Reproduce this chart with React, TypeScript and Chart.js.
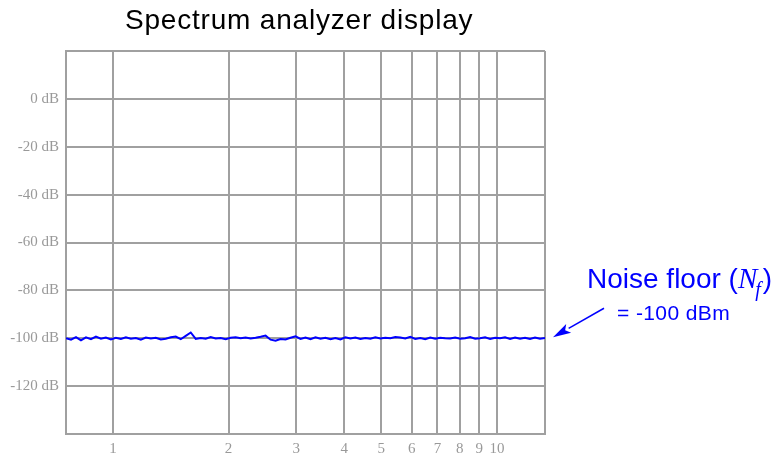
import React, { useEffect, useRef } from "react";
import { Chart, registerables } from "chart.js";

Chart.register(...registerables);

const TITLE = "Spectrum analyzer display";
const FREQ_TICKS = [1, 2, 3, 4, 5, 6, 7, 8, 9, 10];
const FREQ_MIN = 0.7545;
const FREQ_MAX = 13.34;
const DB_MIN = -140;
const DB_MAX = 20;
const DB_LABELED = [0, -20, -40, -60, -80, -100, -120];
const NOISE_DBM = [
  -100, -100.6, -99.5, -100.9, -99.6, -100.4, -99.3, -100.2, -99.7, -100.5,
  -99.8, -100.3, -99.6, -100.2, -99.9, -100.6, -99.7, -100.1, -99.8, -100.5,
  -100.2, -99.6, -99.3, -100.4, -99.0, -97.6, -100.3, -99.9, -100.2, -99.5,
  -100.1, -99.9, -100.4, -99.8, -99.6, -100.0, -99.7, -100.1, -99.8, -99.4,
  -98.9, -100.6, -101.0, -100.3, -100.5, -99.8, -99.2, -100.3, -99.7, -100.4,
  -99.6, -100.2, -99.8, -100.4, -99.9, -100.5, -99.6, -100.1, -99.7, -100.3,
  -99.9, -100.2, -99.6, -100.1, -99.8, -100.0, -99.5, -99.7, -100.1, -99.4,
  -100.3, -99.9, -100.4, -99.7, -100.2, -99.8, -100.0, -100.1, -99.7, -100.2,
  -100.0, -99.5, -100.2, -100.0, -99.6, -100.3, -99.8, -100.0, -99.6, -100.3,
  -99.7, -100.2, -99.8, -100.3, -99.7, -100.2, -99.9,
];
const NOISE_FLOOR = -100;
const NOTE_MAIN = "Noise floor (";
const NOTE_SUB = "= -100 dBm";

const GRID = "#a0a0a0";
const TICK_COLOR = "#999999";
const BLUE = "#0000ff";

const annotationPlugin = {
  id: "annot",
  afterDraw(chart: any) {
    const ctx = chart.ctx;
    const area = chart.chartArea;
    const y = chart.scales.y.getPixelForValue(NOISE_FLOOR);
    ctx.save();
    // title
    ctx.fillStyle = "#000";
    ctx.font = "28px 'Liberation Sans', Arial, sans-serif";
    (ctx as any).letterSpacing = "0.8px";
    ctx.textAlign = "left";
    ctx.textBaseline = "alphabetic";
    ctx.fillText(TITLE, 125, 29);

    // annotation text
    ctx.fillStyle = BLUE;
    (ctx as any).letterSpacing = "0px";
    const x0 = area.right + 42;
    ctx.font = "28px 'Liberation Sans', Arial, sans-serif";
    ctx.fillText(NOTE_MAIN, x0, y - 50);
    let w = ctx.measureText(NOTE_MAIN).width;
    ctx.font = "italic 29px 'Liberation Serif', 'Times New Roman', serif";
    ctx.fillText("N", x0 + w, y - 50);
    w += ctx.measureText("N").width;
    ctx.font = "italic 20px 'Liberation Serif', 'Times New Roman', serif";
    ctx.fillText("f", x0 + w - 2, y - 42);
    w += ctx.measureText("f").width;
    ctx.font = "28px 'Liberation Sans', Arial, sans-serif";
    ctx.fillText(")", x0 + w, y - 50);
    ctx.font = "21px 'Liberation Sans', Arial, sans-serif";
    (ctx as any).letterSpacing = "0.4px";
    ctx.fillText(NOTE_SUB, area.right + 72, y - 18);
    (ctx as any).letterSpacing = "0px";

    // arrow
    const tx = area.right + 8;
    const ty = y - 1;
    const sx = area.right + 59;
    const sy = y - 30;
    const ang = Math.atan2(ty - sy, tx - sx);
    const hl = 18;
    const hw = 5;
    const bx = tx - hl * Math.cos(ang);
    const by = ty - hl * Math.sin(ang);
    ctx.strokeStyle = BLUE;
    ctx.lineWidth = 1.5;
    ctx.beginPath();
    ctx.moveTo(sx, sy);
    ctx.lineTo(bx, by);
    ctx.stroke();
    ctx.beginPath();
    ctx.moveTo(tx, ty);
    ctx.lineTo(bx + hw * Math.sin(ang), by - hw * Math.cos(ang));
    ctx.lineTo(bx + 4 * Math.cos(ang), by + 4 * Math.sin(ang));
    ctx.lineTo(bx - hw * Math.sin(ang), by + hw * Math.cos(ang));
    ctx.closePath();
    ctx.fill();
    ctx.restore();
  },
};

export default function App() {
  const ref = useRef<HTMLCanvasElement>(null);
  useEffect(() => {
    const canvas = ref.current;
    if (!canvas) return;
    const chart = new Chart(canvas, {
      type: "line",
      data: {
        datasets: [
          {
            data: NOISE_DBM.map((v, i) => ({ x: i, y: v })),
            xAxisID: "x2",
            yAxisID: "y",
            borderColor: BLUE,
            borderWidth: 2,
            pointRadius: 0,
            tension: 0,
            fill: false,
          },
        ],
      },
      options: {
        animation: false,
        responsive: false,
        events: [],
        layout: { padding: { top: 51, right: 238, left: 0, bottom: 0 } },
        plugins: { legend: { display: false }, title: { display: false }, tooltip: { enabled: false } },
        scales: {
          x: {
            type: "logarithmic",
            position: "bottom",
            min: FREQ_MIN,
            max: FREQ_MAX,
            afterBuildTicks: (scale: any) => {
              scale.ticks = [FREQ_MIN, ...FREQ_TICKS, FREQ_MAX].map((v) => ({ value: v }));
            },
            afterFit: (scale: any) => {
              scale.height = 24;
            },
            grid: { color: GRID, lineWidth: 2, drawTicks: false },
            border: { color: GRID, width: 2 },
            ticks: {
              autoSkip: false,
              maxRotation: 0,
              padding: 6,
              color: TICK_COLOR,
              font: { family: "'Liberation Serif', 'Times New Roman', serif", size: 15 },
              callback: (v: any) => (FREQ_TICKS.includes(Number(v)) ? String(v) : ""),
            },
          },
          x2: {
            type: "linear",
            display: false,
            min: 0,
            max: NOISE_DBM.length - 1,
          },
          y: {
            type: "linear",
            min: DB_MIN,
            max: DB_MAX,
            afterFit: (scale: any) => {
              scale.width = 66;
            },
            grid: { color: GRID, lineWidth: 2, drawTicks: false },
            border: { color: GRID, width: 2 },
            ticks: {
              stepSize: 20,
              padding: 7,
              color: TICK_COLOR,
              font: { family: "'Liberation Serif', 'Times New Roman', serif", size: 15 },
              callback: (v: any) => (DB_LABELED.includes(Number(v)) ? `${v} dB` : ""),
            },
          },
        },
      },
      plugins: [annotationPlugin],
    } as any);
    return () => chart.destroy();
  }, []);
  return (
    <div style={{ position: "fixed", left: 0, top: 0, width: 783, height: 458, background: "#fff" }}>
      <canvas ref={ref} width={783} height={458} />
    </div>
  );
}
